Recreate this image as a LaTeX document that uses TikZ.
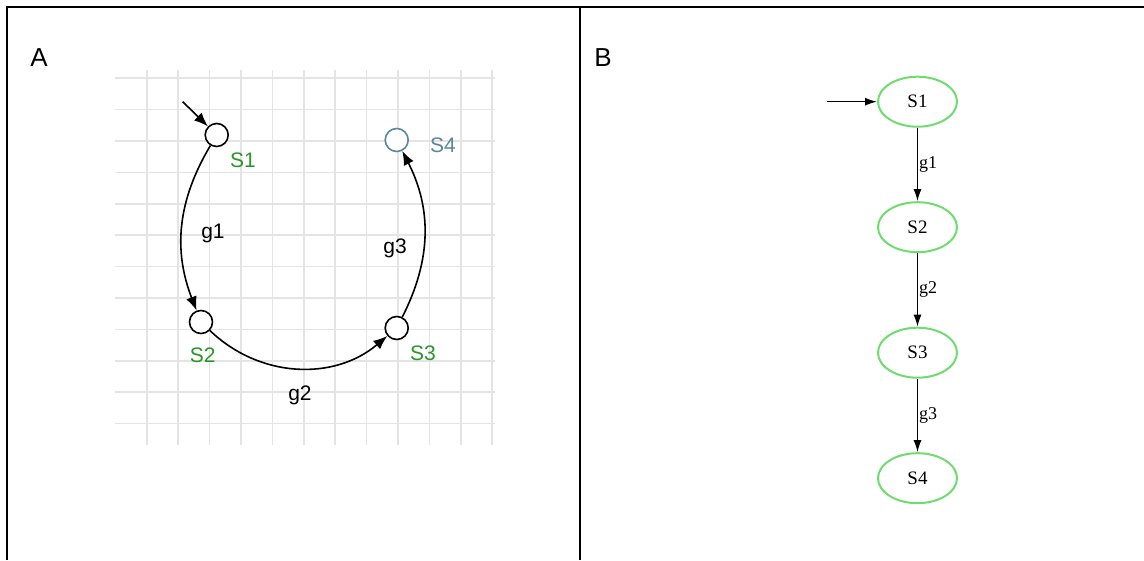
\documentclass[tikz,border=0pt]{standalone}
\usepackage{fontspec}
\setmainfont{Liberation Serif}
\setsansfont{Liberation Sans}
\usepackage{xcolor}
\usetikzlibrary{arrows.meta,positioning,shapes.geometric}
\definecolor{stategreen}{RGB}{40,150,40}
\definecolor{goalblue}{RGB}{90,135,155}
\definecolor{ovalgreen}{RGB}{110,220,110}
\definecolor{gridgray}{RGB}{228,228,228}

\begin{document}
\begin{tikzpicture}[x=1pt,y=1pt,>={Latex[length=14pt,width=11pt]},
  state/.style={circle,draw,line width=1.6pt,minimum size=23pt,inner sep=0pt,fill=white},
  slabel/.style={font=\fontsize{21}{25}\selectfont\sffamily,text=stategreen},
  glabel/.style={font=\fontsize{21}{25}\selectfont\sffamily},
  oval/.style={ellipse,draw=ovalgreen,line width=2pt,minimum width=79pt,minimum height=50pt,inner sep=0pt,font=\fontsize{19}{22}\selectfont},
  tlabel/.style={font=\fontsize{18}{21}\selectfont,right,inner sep=1pt}]
  \useasboundingbox (0,0) rectangle (1144,560);
  % frame
  \draw[line width=2pt] (7,0) -- (7,553) -- (1144,553);
  \draw[line width=2pt] (579.5,0) -- (579.5,553);
  \node[font=\fontsize{26}{30}\selectfont\sffamily] (panelA) at (39,502) {A};
  \node[font=\fontsize{26}{30}\selectfont\sffamily] (panelB) at (603,502) {B};
  % panel A
  \foreach \k in {0,...,11} {
    \draw[gridgray,line width=1.6pt] (115,{481.7-31.4*\k}) -- (495,{481.7-31.4*\k});
    \draw[gridgray,line width=1.6pt] ({146.7+31.4*\k},490) -- ({146.7+31.4*\k},115);
  }
  \node[state] (a1) at (216.7,425) {};
  \node[state] (a2) at (201,238) {};
  \node[state] (a3) at (396.7,232) {};
  \node[state,draw=goalblue] (a4) at (396.7,420) {};
  \node[slabel] (a1lab) at (243,400) {S1};
  \node[slabel] (a2lab) at (202.7,205) {S2};
  \node[slabel] (a3lab) at (423,207) {S3};
  \node[slabel,text=goalblue] (a4lab) at (443,415) {S4};
  \coordinate (a0) at (182.7,458.3);
  \draw[->,line width=1.6pt] (a0) -- (a1);
  \draw[->,line width=1.6pt] (a1) to[bend right=26] (a2);
  \draw[->,line width=1.6pt] (a2) to[bend right=42] (a3);
  \draw[->,line width=1.6pt] (a3) to[bend right=27] (a4);
  \node[glabel] (g1a) at (213,327) {g1};
  \node[glabel] (g2a) at (300,165) {g2};
  \node[glabel] (g3a) at (395,312) {g3};
  % panel B
  \node[oval] (b1) at (917.5,458.3) {S1};
  \node[oval,below=73.5pt of b1] (b2) {S2};
  \node[oval,below=73.5pt of b2] (b3) {S3};
  \node[oval,below=73.5pt of b3] (b4) {S4};
  \coordinate (b0) at (827,458.3);
  \draw[->,line width=1.4pt,>={Latex[length=12pt,width=8pt]}] (b0) -- (b1);
  \draw[->,line width=1.4pt,>={Latex[length=12pt,width=8pt]}] (b1) -- node[tlabel] {g1} (b2);
  \draw[->,line width=1.4pt,>={Latex[length=12pt,width=8pt]}] (b2) -- node[tlabel] {g2} (b3);
  \draw[->,line width=1.4pt,>={Latex[length=12pt,width=8pt]}] (b3) -- node[tlabel] {g3} (b4);
\end{tikzpicture}
\end{document}
